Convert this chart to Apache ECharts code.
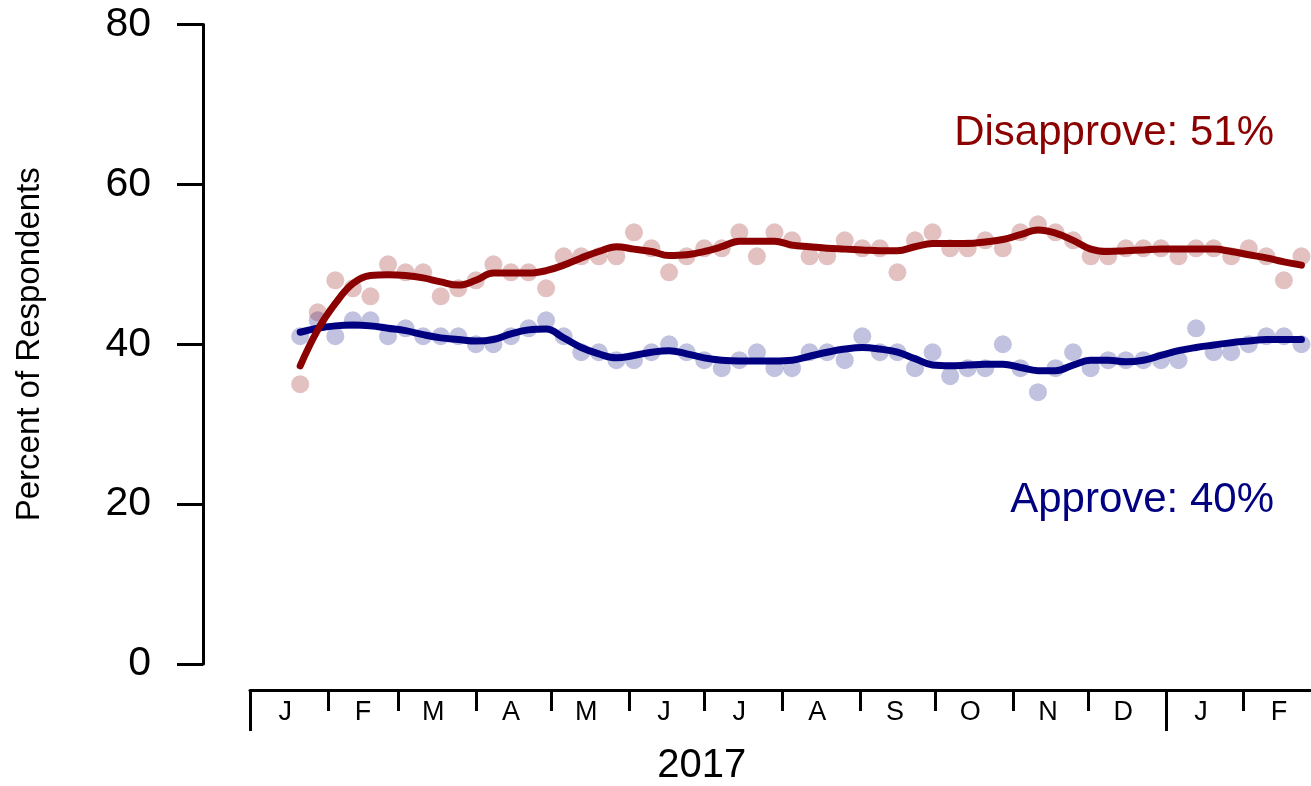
<!DOCTYPE html>
<html><head><meta charset="utf-8">
<script src="https://cdn.jsdelivr.net/npm/echarts@6/dist/echarts.min.js"></script>
<style>html,body{margin:0;padding:0;background:#fff}#c{width:1311px;height:786px}</style>
</head><body><div id="c"></div>
<script>
const pollDates = ['2017-01-21','2017-01-28','2017-02-04','2017-02-11','2017-02-18','2017-02-25','2017-03-04','2017-03-11','2017-03-18','2017-03-25','2017-04-01','2017-04-08','2017-04-15','2017-04-22','2017-04-29','2017-05-06','2017-05-13','2017-05-20','2017-05-27','2017-06-03','2017-06-10','2017-06-17','2017-06-24','2017-07-01','2017-07-08','2017-07-15','2017-07-22','2017-07-29','2017-08-05','2017-08-12','2017-08-19','2017-08-26','2017-09-02','2017-09-09','2017-09-16','2017-09-23','2017-09-30','2017-10-07','2017-10-14','2017-10-21','2017-10-28','2017-11-04','2017-11-11','2017-11-18','2017-11-25','2017-12-02','2017-12-09','2017-12-16','2017-12-23','2017-12-30','2018-01-06','2018-01-13','2018-01-20','2018-01-27','2018-02-03','2018-02-10','2018-02-17','2018-02-24'];
const disapprove = [35,44,48,47,46,50,49,49,46,47,48,50,49,49,47,51,51,51,51,54,52,49,51,52,52,54,51,54,53,51,51,53,52,52,49,53,54,52,52,53,52,54,55,54,53,51,51,52,52,52,51,52,52,51,52,51,48,51];
const approve = [41,43,41,43,43,41,42,41,41,41,40,40,41,42,43,41,39,39,38,38,39,40,39,38,37,38,39,37,37,39,39,38,41,39,39,37,39,36,37,37,40,37,34,37,39,37,38,38,38,38,38,42,39,39,40,41,41,40];
const disapproveTrend = [37.3,41.8,45.1,47.6,48.6,48.7,48.6,48.3,47.8,47.4,48.0,48.9,48.9,48.9,49.2,49.9,50.8,51.6,52.2,51.9,51.6,51.1,51.2,51.6,52.2,52.9,52.9,52.9,52.4,52.2,52.0,51.9,51.8,51.7,51.7,52.2,52.6,52.6,52.6,52.8,53.1,53.7,54.3,53.9,53.0,51.9,51.6,51.7,51.8,51.9,51.9,51.9,51.9,51.6,51.2,50.8,50.3,49.9];
const approveTrend = [41.5,42.0,42.3,42.4,42.3,42.0,41.7,41.2,40.8,40.6,40.4,40.6,41.3,41.8,41.9,40.8,39.6,38.8,38.3,38.6,39.0,39.2,38.8,38.3,38.0,37.9,37.9,37.9,38.0,38.5,39.0,39.4,39.6,39.4,39.0,38.2,37.4,37.3,37.4,37.5,37.5,37.1,36.7,36.7,37.4,38.0,38.0,37.8,38.0,38.6,39.2,39.6,39.9,40.2,40.4,40.6,40.6,40.6];
const monthStarts = ['2017-01-01','2017-02-01','2017-03-01','2017-04-01','2017-05-01','2017-06-01','2017-07-01','2017-08-01','2017-09-01','2017-10-01','2017-11-01','2017-12-01','2018-01-01','2018-02-01'];
const monthLabels = ['J','F','M','A','M','J','J','A','S','O','N','D','J','F'];
const yearStarts = ['2017-01-01','2018-01-01'];
const yearLabel = '2017';
const yearLabelDate = '2017-06-30';
const yTicks = [0,20,40,60,80];
const disapproveText = 'Disapprove: 51%';
const approveText = 'Approve: 40%';

const ORIGIN = Date.UTC(2017,0,1);
function dayOf(s){const [y,m,d]=s.split('-').map(Number);return (Date.UTC(y,m-1,d)-ORIGIN)/86400000;}
const pollDays = pollDates.map(dayOf);
const monthDays = monthStarts.map(dayOf);
const labelDays = monthDays.map(d=>d+14);
const labelMap = {}; labelDays.forEach((d,i)=>{labelMap[d]=monthLabels[i];});
const pairs = arr => arr.map((v,i)=>[pollDays[i],v]);

const FONT = '"Liberation Sans", Arial, sans-serif';
const chart = echarts.init(document.getElementById('c'));
chart.setOption({
  animation:false,
  backgroundColor:'#fff',
  textStyle:{fontFamily:FONT,color:'#000'},
  grid:{left:250,right:0,top:24.5,bottom:122,containLabel:false,outerBoundsMode:'none'},
  xAxis:[{
    type:'value',min:0,max:422.8,position:'bottom',offset:26,
    splitLine:{show:false},
    axisLine:{show:true,onZero:false,lineStyle:{color:'#000',width:3}},
    axisTick:{show:true,customValues:monthDays,length:21,lineStyle:{color:'#000',width:3}},
    axisLabel:{show:true,customValues:labelDays,formatter:v=>labelMap[v]||'',fontSize:27,color:'#000',margin:9,fontFamily:FONT}
  },{
    type:'value',min:0,max:422.8,position:'bottom',offset:26,
    splitLine:{show:false},
    axisLine:{show:false,onZero:false},
    axisTick:{show:true,customValues:yearStarts.map(dayOf),length:41,lineStyle:{color:'#000',width:3}},
    axisLabel:{show:true,customValues:[dayOf(yearLabelDate)],formatter:()=>yearLabel,fontSize:40,color:'#000',margin:56,fontFamily:FONT}
  }],
  yAxis:{
    type:'value',min:0,max:80,interval:20,offset:47,
    splitLine:{show:false},
    axisLine:{show:true,onZero:false,lineStyle:{color:'#000',width:3}},
    axisTick:{show:true,length:26,lineStyle:{color:'#000',width:3}},
    axisLabel:{fontSize:41,color:'#000',margin:52,fontFamily:FONT,formatter:v=>yTicks.includes(v)?String(v):''},
    name:'Percent of Respondents',nameLocation:'middle',nameGap:157,nameRotate:90,
    nameTextStyle:{fontSize:33,color:'#000',fontFamily:FONT}
  },
  series:[
    {type:'scatter',data:pairs(approve),symbolSize:18,itemStyle:{color:'rgba(0,0,128,0.3)'},z:1},
    {type:'scatter',data:pairs(disapprove),symbolSize:18,itemStyle:{color:'rgba(139,0,0,0.3)'},z:1},
    {type:'line',data:pairs(approveTrend),showSymbol:false,smooth:0.4,lineStyle:{color:'#000080',width:7,cap:'round',join:'round'},z:2},
    {type:'line',data:pairs(disapproveTrend),showSymbol:false,smooth:0.4,lineStyle:{color:'#8B0000',width:7,cap:'round',join:'round'},z:3}
  ],
  graphic:[
    {type:'text',x:1274,y:133,style:{text:disapproveText,fill:'#8B0000',fontSize:42,fontFamily:FONT,align:'right',verticalAlign:'middle'}},
    {type:'text',x:1274,y:500,style:{text:approveText,fill:'#000080',fontSize:42,fontFamily:FONT,align:'right',verticalAlign:'middle'}}
  ]
});
</script></body></html>
